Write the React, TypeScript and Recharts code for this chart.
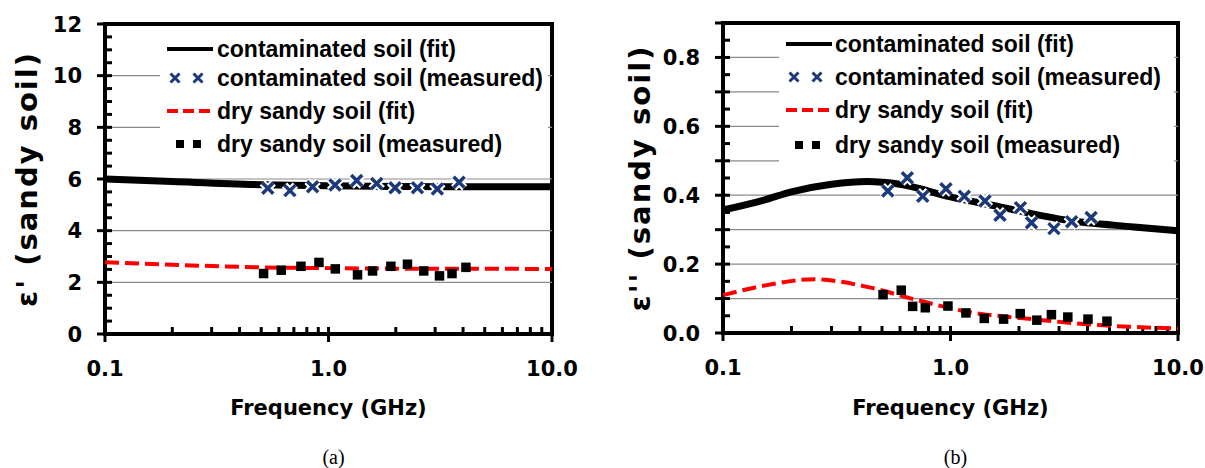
import React from 'react';
import { ComposedChart, Line, Scatter, XAxis, YAxis, ReferenceLine, ReferenceArea } from 'recharts';

const NAVY = '#1c3a7a';
const TICK_FONT = '"DejaVu Sans", Verdana, sans-serif';
const LEGEND_FONT = '"Liberation Sans", Arial, sans-serif';

// log frequency axis, shared by both panels
const xTicks = [0.1, 0.2, 0.3, 0.4, 0.5, 0.6, 0.7, 0.8, 0.9, 1, 2, 3, 4, 5, 6, 7, 8, 9, 10];
const xMajor = [0.1, 1, 10];
const xLabels = ['0.1', '1.0', '10.0'];

// (a) real part
const aYTicks = [0, 0.5, 1, 1.5, 2, 2.5, 3, 3.5, 4, 4.5, 5, 5.5, 6, 6.5, 7, 7.5, 8, 8.5, 9, 9.5, 10, 10.5, 11, 11.5, 12];
const aYMajor = [0, 2, 4, 6, 8, 10, 12];
const aGrid = [2, 4, 6, 8, 10];
const aContFit = [
  { f: 0.1, v: 6.0 }, { f: 0.2, v: 5.9 }, { f: 0.5, v: 5.78 }, { f: 1, v: 5.74 },
  { f: 2, v: 5.71 }, { f: 5, v: 5.7 }, { f: 10, v: 5.7 },
];
const aContMeas = [
  { f: 0.535, v: 5.64 }, { f: 0.672, v: 5.55 }, { f: 0.849, v: 5.7 }, { f: 1.07, v: 5.77 },
  { f: 1.337, v: 5.94 }, { f: 1.643, v: 5.83 }, { f: 1.985, v: 5.66 }, { f: 2.5, v: 5.66 },
  { f: 3.07, v: 5.61 }, { f: 3.84, v: 5.87 },
];
const aDryFit = [
  { f: 0.1, v: 2.78 }, { f: 0.2, v: 2.68 }, { f: 0.3, v: 2.63 }, { f: 0.5, v: 2.58 },
  { f: 1, v: 2.55 }, { f: 2, v: 2.53 }, { f: 10, v: 2.52 },
];
const aDryMeas = [
  { f: 0.511, v: 2.35 }, { f: 0.613, v: 2.48 }, { f: 0.751, v: 2.63 }, { f: 0.904, v: 2.78 },
  { f: 1.07, v: 2.53 }, { f: 1.345, v: 2.3 }, { f: 1.57, v: 2.45 }, { f: 1.897, v: 2.63 },
  { f: 2.25, v: 2.71 }, { f: 2.66, v: 2.45 }, { f: 3.13, v: 2.26 }, { f: 3.56, v: 2.35 },
  { f: 4.11, v: 2.59 },
];

// (b) imaginary part
const bYTicks = [0, 0.05, 0.1, 0.15, 0.2, 0.25, 0.3, 0.35, 0.4, 0.45, 0.5, 0.55, 0.6, 0.65, 0.7, 0.75, 0.8, 0.85, 0.9];
const bYMajor = [0, 0.1, 0.2, 0.3, 0.4, 0.5, 0.6, 0.7, 0.8, 0.9];
const bYLabelled = [0, 0.2, 0.4, 0.6, 0.8];
const bGrid = [0.1, 0.2, 0.3, 0.4, 0.5, 0.6, 0.7, 0.8];
const bContFit = [
  { f: 0.1, v: 0.357 }, { f: 0.15, v: 0.385 }, { f: 0.2, v: 0.41 }, { f: 0.3, v: 0.432 },
  { f: 0.43, v: 0.44 }, { f: 0.6, v: 0.432 }, { f: 1.0, v: 0.395 }, { f: 1.65, v: 0.366 },
  { f: 3.2, v: 0.328 }, { f: 6.4, v: 0.308 }, { f: 10, v: 0.297 },
];
const bContMeas = [
  { f: 0.53, v: 0.412 }, { f: 0.646, v: 0.451 }, { f: 0.755, v: 0.397 }, { f: 0.955, v: 0.419 },
  { f: 1.15, v: 0.397 }, { f: 1.418, v: 0.383 }, { f: 1.65, v: 0.342 }, { f: 2.03, v: 0.364 },
  { f: 2.27, v: 0.32 }, { f: 2.85, v: 0.303 }, { f: 3.41, v: 0.323 }, { f: 4.15, v: 0.335 },
];
const bDryFit = [
  { f: 0.1, v: 0.11 }, { f: 0.156, v: 0.139 }, { f: 0.25, v: 0.156 }, { f: 0.43, v: 0.134 },
  { f: 0.71, v: 0.096 }, { f: 1.18, v: 0.062 }, { f: 2.3, v: 0.04 }, { f: 4.5, v: 0.023 },
  { f: 10, v: 0.013 },
];
const bDryMeas = [
  { f: 0.504, v: 0.112 }, { f: 0.606, v: 0.125 }, { f: 0.68, v: 0.078 }, { f: 0.773, v: 0.074 },
  { f: 0.972, v: 0.079 }, { f: 1.166, v: 0.059 }, { f: 1.404, v: 0.043 }, { f: 1.707, v: 0.041 },
  { f: 2.02, v: 0.057 }, { f: 2.39, v: 0.038 }, { f: 2.77, v: 0.054 }, { f: 3.27, v: 0.047 },
  { f: 4.01, v: 0.041 }, { f: 4.86, v: 0.035 },
];

const legendItems = [
  { kind: 'line', label: 'contaminated soil (fit)' },
  { kind: 'cross', label: 'contaminated soil (measured)' },
  { kind: 'dash', label: 'dry sandy soil (fit)' },
  { kind: 'square', label: 'dry sandy soil (measured)' },
];

const near = (a: number, list: number[]) => list.some((b) => Math.abs(a - b) < 1e-6);

const CrossShape = (p: any) => {
  const { cx, cy } = p;
  const s = 5.5;
  const d = `M${cx - s},${cy - s}L${cx + s},${cy + s}M${cx - s},${cy + s}L${cx + s},${cy - s}`;
  return (
    <g>
      <path d={d} stroke="#fff" strokeWidth={7.5} />
      <path d={d} stroke={NAVY} strokeWidth={3.5} />
    </g>
  );
};

const SquareShape = (p: any) => {
  const { cx, cy } = p;
  return <rect x={cx - 4.5} y={cy - 4.5} width={9.5} height={9.5} fill="#000" />;
};

// tick labels only; the tick marks themselves are reference segments
const XTick = (p: any) => {
  const { x, y, payload } = p;
  const idx = xMajor.findIndex((m) => Math.abs(m - payload.value) < 1e-9);
  if (idx < 0) return <g />;
  return (
    <text x={x} y={y + 42} textAnchor="middle" fontFamily={TICK_FONT} fontWeight="bold" fontSize={21} fill="#000">
      {xLabels[idx]}
    </text>
  );
};

const makeYTick = (labelled: number[], fmt: (v: number) => string) => (p: any) => {
  const { x, y, payload } = p;
  if (!near(payload.value, labelled)) return <g />;
  return (
    <text x={x - 23} y={y} dy="0.36em" textAnchor="end" fontFamily={TICK_FONT} fontWeight="bold" fontSize={21} fill="#000">
      {fmt(payload.value)}
    </text>
  );
};

const LegendSymbol = ({ kind, pos }: { kind: string; pos: number[] }) => (
  <svg width={46} height={30} style={{ display: 'block' }}>
    {kind === 'line' && <line x1={0} x2={46} y1={15} y2={15} stroke="#000" strokeWidth={4} />}
    {kind === 'dash' && <line x1={0} x2={46} y1={15} y2={15} stroke="#ff0000" strokeWidth={4} strokeDasharray="11 5" />}
    {kind === 'cross' &&
      pos.map((c) => (
        <path key={c} d={`M${c - 4.5},10.5L${c + 4.5},19.5M${c - 4.5},19.5L${c + 4.5},10.5`} stroke={NAVY} strokeWidth={3} />
      ))}
    {kind === 'square' && pos.map((c) => <rect key={c} x={c - 4} y={11} width={8} height={8} fill="#000" />)}
  </svg>
);

const Panel = (p: any) => {
  const H = 468;
  const XH = 40;
  const plotL = p.axisW;
  const plotR = p.width - p.right;
  const plotW = plotR - plotL;
  const plotH = H - p.bottom - XH - p.top;
  const plotMid = (plotL + plotR) / 2;
  const YTick = makeYTick(p.yLabelled, p.fmtY);
  // tick lengths: 7px inward, 8px outward for major ticks
  const inY = (p.yMax * 7) / plotH;
  const outY = (p.yMax * 8) / plotH;
  const inX = Math.pow(10, (2 * 7) / plotW);
  const outX = Math.pow(10, (2 * 8) / plotW);
  return (
    <div style={{ position: 'absolute', left: p.left, top: 0, width: p.width, height: H }}>
      <ComposedChart width={p.width} height={H} margin={{ top: p.top, right: p.right, bottom: p.bottom, left: 0 }}>
        <XAxis
          dataKey="f"
          type="number"
          scale="log"
          domain={[0.1, 10]}
          ticks={xTicks}
          interval={0}
          height={XH}
          tickSize={0}
          tickMargin={0}
          tickLine={false}
          axisLine={false}
          tick={(t: any) => <XTick {...t} />}
        />
        <YAxis
          dataKey="v"
          type="number"
          domain={[0, p.yMax]}
          ticks={p.yTicks}
          interval={0}
          width={p.axisW}
          tickSize={0}
          tickMargin={0}
          tickLine={false}
          axisLine={false}
          tick={(t: any) => <YTick {...t} />}
        />
        {p.grid.map((g: number) => (
          <ReferenceLine key={`g${g}`} y={g} stroke="#8a8a8a" strokeWidth={1.2} />
        ))}
        {xTicks.map((t) => (
          <ReferenceLine
            key={`xt${t}`}
            ifOverflow="visible"
            segment={[{ x: t, y: near(t, xMajor) ? -outY : 0 }, { x: t, y: inY }]}
            stroke="#000"
            strokeWidth={3}
          />
        ))}
        {p.yTicks.map((t: number) => (
          <ReferenceLine
            key={`yt${t}`}
            ifOverflow="visible"
            segment={[{ x: near(t, p.yMajor) ? 0.1 / outX : 0.1, y: t }, { x: 0.1 * inX, y: t }]}
            stroke="#000"
            strokeWidth={3}
          />
        ))}
        <ReferenceArea x1={0.1} x2={10} y1={0} y2={p.yMax} ifOverflow="visible" fill="none" stroke="#000" strokeWidth={4} />
        <Line data={p.dryFit} dataKey="v" type="monotone" stroke="#ff0000" strokeWidth={4} strokeDasharray="14 6" dot={false} isAnimationActive={false} />
        <Line data={p.contFit} dataKey="v" type="monotone" stroke="#000" strokeWidth={7} dot={false} isAnimationActive={false} />
        <Scatter data={p.dryMeas} dataKey="v" shape={(s: any) => <SquareShape {...s} />} isAnimationActive={false} />
        <Scatter data={p.contMeas} dataKey="v" shape={(s: any) => <CrossShape {...s} />} isAnimationActive={false} />
      </ComposedChart>

      <div style={{ position: 'absolute', left: p.legend.left, top: p.legend.top, width: p.legend.width, height: p.legend.height, background: '#fff' }}>
        {legendItems.map((it, i) => (
          <div
            key={it.label}
            style={{ position: 'absolute', left: 7, top: p.legend.rows[i] - 15, height: 30, display: 'flex', alignItems: 'center', whiteSpace: 'nowrap' }}
          >
            <LegendSymbol kind={it.kind} pos={it.kind === 'cross' ? [8, 31] : [13, 30]} />
            <span style={{ marginLeft: p.legend.textX - 53, fontFamily: LEGEND_FONT, fontWeight: 'bold', fontSize: 23, color: '#000' }}>
              {it.label}
            </span>
          </div>
        ))}
      </div>

      <div
        style={{
          position: 'absolute', left: p.titleX, top: p.top + plotH / 2,
          transform: 'translate(-50%, -50%) rotate(-90deg)', whiteSpace: 'nowrap',
          fontFamily: TICK_FONT, fontWeight: 'bold', fontSize: 29, letterSpacing: 2,
        }}
      >
        {p.yTitle}
      </div>
      <div
        style={{
          position: 'absolute', left: plotMid, top: 408, transform: 'translate(-50%, -50%)', whiteSpace: 'nowrap',
          fontFamily: TICK_FONT, fontWeight: 'bold', fontSize: 21,
        }}
      >
        Frequency (GHz)
      </div>
      <div
        style={{
          position: 'absolute', left: plotMid + 5, top: 457, transform: 'translate(-50%, -50%)', whiteSpace: 'nowrap',
          fontFamily: '"Liberation Serif", "Times New Roman", serif', fontSize: 20,
        }}
      >
        {p.caption}
      </div>
    </div>
  );
};

export default function App() {
  return (
    <div style={{ position: 'absolute', left: 0, top: 0, width: 1205, height: 468, background: '#fff', overflow: 'hidden' }}>
      <Panel
        left={0} width={600} axisW={105} top={24} right={48} bottom={94} yMax={12}
        yTicks={aYTicks} yMajor={aYMajor} yLabelled={aYMajor} fmtY={(v: number) => String(v)} grid={aGrid}
        contFit={aContFit} contMeas={aContMeas} dryFit={aDryFit} dryMeas={aDryMeas}
        yTitle="ε' (sandy soil)" titleX={27}
        legend={{ left: 160, top: 30, width: 388, height: 130, rows: [19, 48, 81, 114], textX: 57 }}
        caption="(a)"
      />
      <Panel
        left={600} width={605} axisW={123} top={23} right={27} bottom={95} yMax={0.9}
        yTicks={bYTicks} yMajor={bYMajor} yLabelled={bYLabelled} fmtY={(v: number) => v.toFixed(1)} grid={bGrid}
        contFit={bContFit} contMeas={bContMeas} dryFit={bDryFit} dryMeas={bDryMeas}
        yTitle="ε'' (sandy soil)" titleX={40}
        legend={{ left: 179, top: 30, width: 395, height: 136, rows: [14, 47, 80, 115], textX: 56 }}
        caption="(b)"
      />
    </div>
  );
}
